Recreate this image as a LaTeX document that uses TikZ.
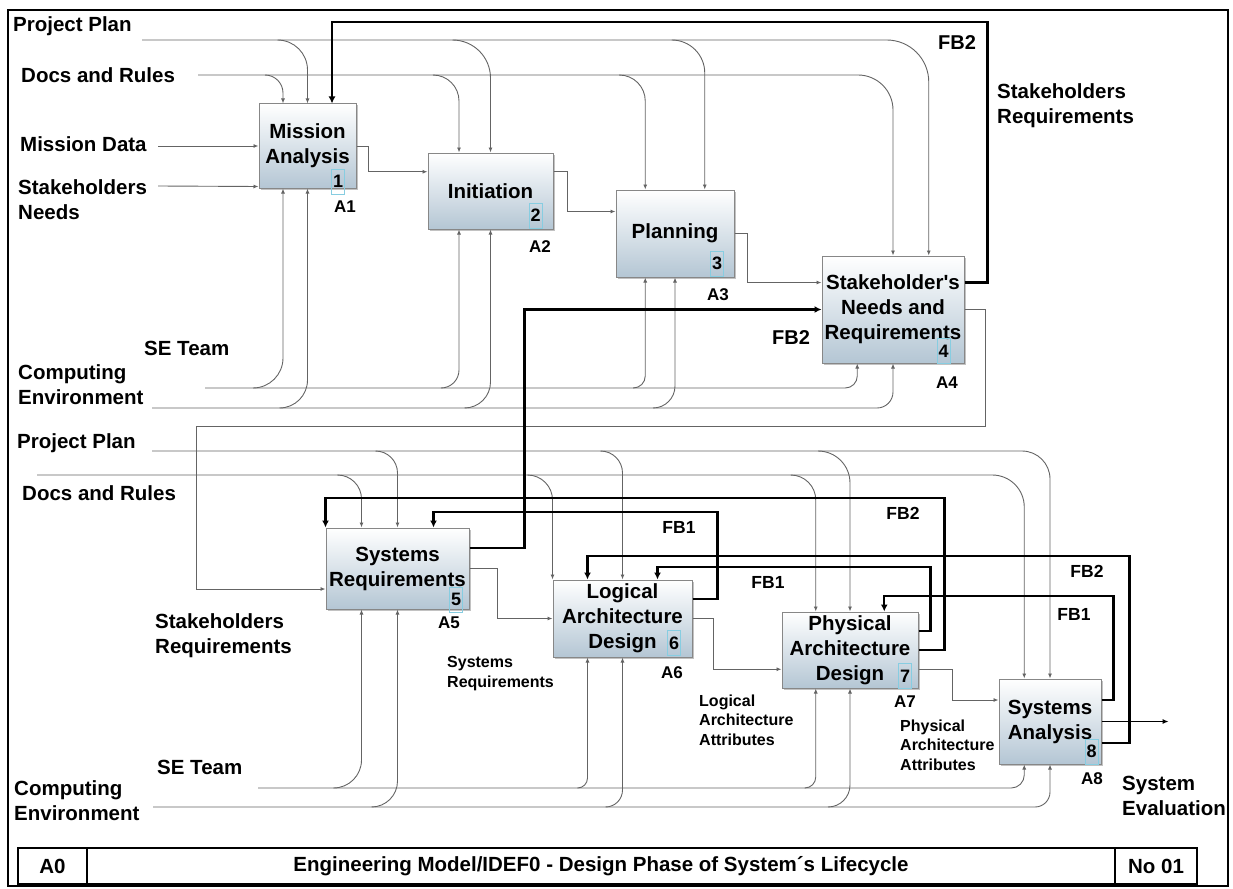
\documentclass[tikz,border=0pt]{standalone}
\usepackage{fontspec}
\setmainfont{Liberation Sans}
\usetikzlibrary{arrows.meta,calc,shadows}
\definecolor{boxbot}{RGB}{180,198,212}
\definecolor{boxedge}{RGB}{135,135,135}
\definecolor{lngray}{RGB}{100,100,100}
\definecolor{numcyan}{RGB}{135,205,225}
\begin{document}
\begin{tikzpicture}[x=1pt,y=-1pt,
  box/.style={draw=boxedge, line width=1pt, top color=white, bottom color=boxbot,
    inner sep=0pt, align=center, font=\bfseries\fontsize{20.5}{25}\selectfont,
    drop shadow={shadow xshift=1.5pt, shadow yshift=-1.5pt, fill=black!40, opacity=0.6}},
  lbl/.style={font=\bfseries\fontsize{20.5}{25}\selectfont, inner sep=0pt, anchor=west, align=left},
  sml/.style={font=\bfseries\fontsize{16}{19.5}\selectfont, inner sep=0pt, anchor=west, align=left},
  fbs/.style={font=\bfseries\fontsize{17.5}{20}\selectfont, inner sep=0pt},
  fbbig/.style={font=\bfseries\fontsize{20}{22}\selectfont, inner sep=0pt},
  aid/.style={font=\bfseries\fontsize{17}{20}\selectfont, inner sep=0pt},
  numbox/.style={draw=numcyan, line width=0.9pt, minimum width=13pt, minimum height=25pt,
    inner sep=0pt, font=\bfseries\fontsize{18}{18}\selectfont},
  cell/.style={draw, line width=2pt, inner sep=0pt, font=\bfseries\fontsize{20.5}{22}\selectfont},
  ln/.style={draw=lngray, line width=0.9pt},
  lnA/.style={ln, -{Latex[length=5pt,width=4pt]}},
  fbA/.style={draw=black, line width=2.4pt, -{Latex[length=7pt,width=7pt]}}
]
\useasboundingbox (0,0) rectangle (1233,888);
\draw[line width=2pt] (8,10) rectangle (1228,886);

% ---------- boxes ----------
\node[box, minimum width=97pt,  minimum height=84pt]  (b1) at (307.5,146)  {Mission\\Analysis};
\node[box, minimum width=125pt, minimum height=76pt]  (b2) at (490.5,191)  {Initiation};
\node[box, minimum width=118pt, minimum height=87pt]  (b3) at (675,233.5)  {Planning};
\node[box, minimum width=142pt, minimum height=107pt] (b4) at (893,309.5)  {Stakeholder\textquotesingle s\\Needs and\\Requirements};
\node[box, minimum width=143pt, minimum height=81pt]  (b5) at (397.5,568.5) {Systems\\Requirements};
\node[box, minimum width=139pt, minimum height=77pt]  (b6) at (622.5,618.5) {Logical\\Architecture\\Design};
\node[box, minimum width=136pt, minimum height=76pt]  (b7) at (850,650)     {Physical\\Architecture\\Design};
\node[box, minimum width=102pt, minimum height=85pt]  (b8) at (1050,721.5)  {Systems\\Analysis};

\foreach \i in {1,...,8} {
  \coordinate (b\i-t1) at ($(b\i.north west)!0.25!(b\i.north east)$);
  \coordinate (b\i-t2) at (b\i.north);
  \coordinate (b\i-t3) at ($(b\i.north west)!0.75!(b\i.north east)$);
  \coordinate (b\i-b1) at ($(b\i.south west)!0.25!(b\i.south east)$);
  \coordinate (b\i-b2) at (b\i.south);
  \coordinate (b\i-l1) at ($(b\i.north west)!0.25!(b\i.south west)$);
  \coordinate (b\i-l2) at (b\i.west);
  \coordinate (b\i-l3) at ($(b\i.north west)!0.75!(b\i.south west)$);
  \coordinate (b\i-r1) at ($(b\i.north east)!0.25!(b\i.south east)$);
  \coordinate (b\i-r2) at (b\i.east);
  \coordinate (b\i-r3) at ($(b\i.north east)!0.75!(b\i.south east)$);
}

% number tags and A-labels
\node[numbox] (n1) at (338,181.5) {1};
\node[numbox] (n2) at (535.5,215.5) {2};
\node[numbox] (n3) at (717,263.5) {3};
\node[numbox] (n4) at (943.5,351) {4};
\node[numbox] (n5) at (456,599.5) {5};
\node[numbox] (n6) at (674,643) {6};
\node[numbox] (n7) at (905,676) {7};
\node[numbox] (n8) at (1091.5,751.5) {8};
\node[aid] (a1) at (345,207) {A1};
\node[aid] (a2) at (540,247) {A2};
\node[aid] (a3) at (718,295) {A3};
\node[aid] (a4) at (947,383) {A4};
\node[aid] (a5) at (449,623) {A5};
\node[aid] (a6) at (672,673) {A6};
\node[aid] (a7) at (905,702) {A7};
\node[aid] (a8) at (1092,779) {A8};

% ---------- labels ----------
\node[lbl] (tPP) at (13,26) {Project Plan};
\node[lbl] (tDR) at (21,75) {Docs and Rules};
\node[lbl] (tMD) at (20,144) {Mission Data};
\node[lbl] (tSN) at (18,199.5) {Stakeholders\\Needs};
\node[lbl] (tSE) at (144,348) {SE Team};
\node[lbl] (tCE) at (18,384.5) {Computing\\Environment};
\node[lbl] (tSR) at (997,105.5) {Stakeholders\\Requirements};
\node[lbl] (bPP) at (17,443) {Project Plan};
\node[lbl] (bDR) at (22,493) {Docs and Rules};
\node[lbl] (bSR) at (155,636) {Stakeholders\\Requirements};
\node[lbl] (bSE) at (157,767) {SE Team};
\node[lbl] (bCE) at (14,800.5) {Computing\\Environment};
\node[lbl] (sev) at (1122,795.5) {System\\Evaluation};
\node[sml] (ssr) at (447,673.5) {Systems\\Requirements};
\node[sml] (lat) at (699,720) {Logical\\Architecture\\Attributes};
\node[sml] (pat) at (900,745) {Physical\\Architecture\\Attributes};
\node[fbbig] (fb0) at (957,43) {FB2};
\node[fbbig] (fb1) at (791,338) {FB2};
\node[fbs] (fb2) at (679,527) {FB1};
\node[fbs] (fb3) at (903,513) {FB2};
\node[fbs] (fb4) at (768,582) {FB1};
\node[fbs] (fb5) at (1087,571) {FB2};
\node[fbs] (fb6) at (1074,614) {FB1};

% ---------- line start points ----------
\coordinate (pp1) at (142,40);
\coordinate (dr1) at (198,75);
\coordinate (se1) at (205,388);
\coordinate (ce1) at (152,408);
\coordinate (pp2) at (152,451);
\coordinate (dr2) at (37,475);
\coordinate (se2) at (258,788);
\coordinate (ce2) at (153,807);
\coordinate (md) at (158,146);
\coordinate (sn) at (158,186);
\coordinate (snin) at ($(b1.south west)+(0,-2)$);

% ---------- top section controls ----------
\draw[lnA, rounded corners=42pt] (pp1) -| (b4-t3);
\draw[lnA, rounded corners=30pt] (277.5,40) -| (b1-t2);
\draw[lnA, rounded corners=38pt] (452.5,40) -| (b2-t2);
\draw[lnA, rounded corners=33pt] (672.5,40) -| (b3-t3);
\draw[lnA, rounded corners=35pt] (dr1) -| (b4-t2);
\draw[lnA, rounded corners=18pt] (265,75) -| (b1-t1);
\draw[lnA, rounded corners=26pt] (433.75,75) -| (b2-t1);
\draw[lnA, rounded corners=26pt] (619.5,75) -| (b3-t1);
% mechanisms
\draw[lnA, rounded corners=12pt] (se1) -| (b4-b1);
\draw[lnA, rounded corners=30pt] (253,388) -| (b1-b1);
\draw[lnA, rounded corners=18pt] (441.75,388) -| (b2-b1);
\draw[lnA, rounded corners=12pt] (633.5,388) -| (b3-b1);
\draw[lnA, rounded corners=16pt] (ce1) -| (b4-b2);
\draw[lnA, rounded corners=28pt] (279.5,408) -| (b1-b2);
\draw[lnA, rounded corners=26pt] (464.5,408) -| (b2-b2);
\draw[lnA, rounded corners=22pt] (653,408) -| (b3-b2);
% inputs / outputs
\draw[lnA] (md) -- (b1-l2);
\draw[lnA] (sn) -- (snin);
\draw[lnA] (b1-r2) -- ++(12,0) |- (b2-l1);
\draw[lnA] (b2-r1) -- ++(14,0) |- (b3-l1);
\draw[lnA] (b3-r2) -- ++(13,0) |- (b4-l1);
\draw[lnA] (b4-r2) -| (985,426) -| ([xshift=-129pt]b5-l3) -- (b5-l3);

% ---------- bottom section controls ----------
\draw[lnA, rounded corners=28pt] (pp2) -| (b8-t2);
\draw[lnA, rounded corners=22pt] (375.5,451) -| (b5-t2);
\draw[lnA, rounded corners=22pt] (600.5,451) -| (b6-t2);
\draw[lnA, rounded corners=32pt] (818,451) -| (b7-t2);
\draw[lnA, rounded corners=32pt] (dr2) -| (b8-t1);
\draw[lnA, rounded corners=24pt] (337.75,475) -| (b5-t1);
\draw[lnA, rounded corners=25pt] (528,475) -| (b6.north west);
\draw[lnA, rounded corners=25pt] (791,475) -| (b7-t1);
% mechanisms
\draw[lnA, rounded corners=13pt] (se2) -| (b8-b1);
\draw[lnA, rounded corners=28pt] (333.75,788) -| (b5-b1);
\draw[lnA, rounded corners=10pt] (577.75,788) -| (b6-b1);
\draw[lnA, rounded corners=11pt] (805,788) -| (b7-b1);
\draw[lnA, rounded corners=15pt] (ce2) -| (b8-b2);
\draw[lnA, rounded corners=26pt] (371.5,807) -| (b5-b2);
\draw[lnA, rounded corners=17pt] (605.5,807) -| (b6-b2);
\draw[lnA, rounded corners=22pt] (828,807) -| (b7-b2);
% outputs
\draw[lnA] (b5-r2) -- ++(28,0) |- (b6-l2);
\draw[lnA] (b6-r2) -- ++(21,0) |- (b7-l3);
\draw[lnA] (b7-r3) -- ++(34,0) |- (b8-l1);
\coordinate (evalend) at ($(b8-r2)+(67,0)$);
\draw[draw=black, line width=1pt, -{Latex[length=6pt,width=5pt]}] (b8-r2) -- (evalend);

% ---------- feedback (thick) ----------
\draw[fbA] (b4-r1) -- ++(23,0) |- (b1-t3 |- 0,22) -- (b1-t3);
\draw[fbA] (b5-r1) -- ++(55,0) |- (b4-l2);
\draw[fbA] (b7-r2) -- ++(26,0) |- (b5.north west |- 0,498) -- (b5.north west);
\draw[fbA] (b6-r1) -- ++(25,0) |- (b5-t3 |- 0,512) -- (b5-t3);
\draw[fbA] (b8-r3) -- ++(28,0) |- (b6-t1 |- 0,556) -- (b6-t1);
\draw[fbA] (b7-r1) -- ++(12,0) |- (b6-t3 |- 0,567) -- (b6-t3);
\draw[fbA] (b8-r1) -- ++(12,0) |- (b7-t3 |- 0,596) -- (b7-t3);

% ---------- title bar ----------
\node[cell, minimum width=69pt, minimum height=36pt] (tA0) at (52.5,866) {A0};
\node[cell, minimum width=1028pt, minimum height=36pt] (tT) at (601,866) {Engineering Model/IDEF0 - Design Phase of System´s Lifecycle};
\node[cell, minimum width=82pt, minimum height=36pt] (tNo) at (1156,866) {No 01};
\end{tikzpicture}
\end{document}
